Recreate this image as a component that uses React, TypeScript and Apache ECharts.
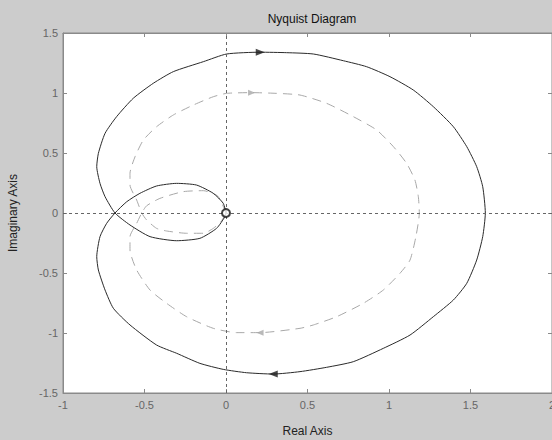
import React, { useEffect, useRef } from "react";
import * as echarts from "echarts";

const xTicks = [-1, -0.5, 0, 0.5, 1, 1.5, 2];
const yTicks = [-1.5, -1, -0.5, 0, 0.5, 1, 1.5];

// Solid Nyquist curve, traced in order
const solidCurve: [number, number][] = [
  [0, 0], [-0.017, 0.081], [-0.078, 0.164], [-0.181, 0.233], [-0.303, 0.247],
  [-0.426, 0.225], [-0.528, 0.164], [-0.609, 0.094], [-0.681, 0],
  [-0.732, -0.086], [-0.773, -0.197], [-0.793, -0.364], [-0.783, -0.475],
  [-0.742, -0.642], [-0.691, -0.794], [-0.589, -0.933], [-0.426, -1.1],
  [-0.303, -1.169], [-0.16, -1.253], [-0.017, -1.303], [0.126, -1.331],
  [0.29, -1.342], [0.454, -1.322], [0.617, -1.286], [0.781, -1.239],
  [0.965, -1.128], [1.129, -1.017], [1.272, -0.864], [1.395, -0.725],
  [1.477, -0.586], [1.538, -0.392], [1.575, -0.197], [1.591, 0],
  [1.575, 0.219], [1.538, 0.386], [1.477, 0.553], [1.395, 0.719],
  [1.272, 0.886], [1.149, 1.025], [1.006, 1.136], [0.863, 1.219],
  [0.72, 1.269], [0.536, 1.325], [0.372, 1.336], [0.209, 1.34],
  [0.004, 1.325], [-0.139, 1.261], [-0.323, 1.178], [-0.446, 1.081],
  [-0.569, 0.956], [-0.671, 0.803], [-0.742, 0.664], [-0.783, 0.497],
  [-0.793, 0.386], [-0.773, 0.247], [-0.742, 0.136], [-0.681, 0],
  [-0.589, -0.1], [-0.466, -0.197], [-0.303, -0.231], [-0.16, -0.211],
  [-0.058, -0.128], [-0.006, -0.03], [0, 0],
];

// Dashed grey Nyquist curve
const dashedCurve: [number, number][] = [
  [0, 0], [-0.05, 0.14], [-0.139, 0.186], [-0.262, 0.178], [-0.405, 0.122],
  [-0.487, 0.06], [-0.517, 0], [-0.548, -0.086], [-0.589, -0.197],
  [-0.589, -0.308], [-0.548, -0.475], [-0.466, -0.642], [-0.364, -0.753],
  [-0.242, -0.864], [-0.078, -0.961], [0.065, -0.997], [0.209, -0.997],
  [0.454, -0.961], [0.536, -0.933], [0.679, -0.864], [0.842, -0.753],
  [0.965, -0.642], [1.067, -0.503], [1.129, -0.392], [1.165, -0.197],
  [1.186, 0], [1.18, 0.136], [1.159, 0.275], [1.108, 0.414], [1.027, 0.553],
  [0.924, 0.692], [0.781, 0.803], [0.617, 0.914], [0.454, 0.983],
  [0.31, 0.997], [0.157, 1.003], [0.004, 0.997], [-0.078, 0.969],
  [-0.2, 0.9], [-0.323, 0.817], [-0.426, 0.719], [-0.507, 0.608],
  [-0.558, 0.469], [-0.589, 0.331], [-0.589, 0.233], [-0.548, 0.108],
  [-0.517, 0], [-0.487, -0.058], [-0.426, -0.128], [-0.364, -0.15],
  [-0.242, -0.169], [-0.139, -0.169], [-0.078, -0.128], [-0.03, -0.07],
  [0, 0],
];

// Direction arrows: [x, y, rotation]
const solidArrows: [number, number, number][] = [
  [0.21, 1.34, -90],
  [0.29, -1.342, 90],
];
const dashedArrows: [number, number, number][] = [
  [0.157, 1.003, -90],
  [0.209, -0.997, 90],
];
const originPoint: [number, number][] = [[0, 0]];

const FONT = "'Liberation Sans', Arial, sans-serif";

export default function App() {
  const ref = useRef<HTMLDivElement>(null);
  useEffect(() => {
    if (!ref.current) return;
    const chart = echarts.init(ref.current, undefined, { renderer: "svg" });
    const axisCommon = {
      type: "value" as const,
      interval: 0.5,
      axisLine: { show: true, onZero: false, lineStyle: { color: "#8a8a8a", width: 1 } },
      axisTick: { show: true, inside: true, length: 4, lineStyle: { color: "#8a8a8a" } },
      splitLine: { show: false },
    };
    chart.setOption({
      animation: false,
      backgroundColor: "#cccccc",
      title: {
        text: "Nyquist Diagram",
        left: 307,
        top: 8,
        textAlign: "center",
        textStyle: { fontFamily: FONT, fontSize: 12, fontWeight: "normal", color: "#111" },
      },
      grid: {
        left: 63,
        top: 33,
        right: 0,
        bottom: 47,
        show: true,
        outerBoundsMode: "none",
        containLabel: false,
        backgroundColor: "#ffffff",
        borderColor: "#8a8a8a",
        borderWidth: 1,
      },
      xAxis: [
        {
          ...axisCommon,
          min: xTicks[0],
          max: xTicks[xTicks.length - 1],
          position: "bottom",
          name: "Real Axis",
          nameLocation: "middle",
          nameGap: 32,
          nameTextStyle: { fontFamily: FONT, fontSize: 12, color: "#222" },
          axisLabel: { fontFamily: FONT, fontSize: 11, color: "#666", margin: 6, showMaxLabel: true },
        },
        {
          ...axisCommon,
          min: xTicks[0],
          max: xTicks[xTicks.length - 1],
          position: "top",
          axisLabel: { show: false },
        },
      ],
      yAxis: [
        {
          ...axisCommon,
          min: yTicks[0],
          max: yTicks[yTicks.length - 1],
          position: "left",
          name: "Imaginary Axis",
          nameLocation: "middle",
          nameGap: 44,
          nameRotate: 90,
          nameTextStyle: { fontFamily: FONT, fontSize: 12, color: "#222" },
          axisLabel: { fontFamily: FONT, fontSize: 11, color: "#666", margin: 5 },
        },
        {
          ...axisCommon,
          min: yTicks[0],
          max: yTicks[yTicks.length - 1],
          position: "right",
          axisLabel: { show: false },
        },
      ],
      series: [
        {
          type: "line",
          data: dashedCurve,
          showSymbol: false,
          smooth: 0.2,
          lineStyle: { color: "#a8a8a8", width: 1, type: [9, 6] },
          silent: true,
          z: 2,
        },
        {
          type: "line",
          data: solidCurve,
          showSymbol: false,
          smooth: 0.2,
          lineStyle: { color: "#2a2a2a", width: 1 },
          silent: true,
          z: 3,
          markLine: {
            silent: true,
            symbol: "none",
            label: { show: false },
            lineStyle: { color: "#666", width: 1, type: [3, 3] },
            data: [{ xAxis: 0 }, { yAxis: 0 }],
          },
        },
        {
          type: "scatter",
          data: solidArrows.map((a) => ({ value: [a[0], a[1]], symbolRotate: a[2] })),
          symbol: "triangle",
          symbolSize: [7, 9],
          itemStyle: { color: "#1a1a1a" },
          silent: true,
          z: 4,
        },
        {
          type: "scatter",
          data: dashedArrows.map((a) => ({ value: [a[0], a[1]], symbolRotate: a[2] })),
          symbol: "triangle",
          symbolSize: [6, 7],
          itemStyle: { color: "#a8a8a8" },
          silent: true,
          z: 4,
        },
        {
          type: "scatter",
          data: originPoint,
          symbol: "circle",
          symbolSize: 8,
          itemStyle: { color: "#ffffff", borderColor: "#111", borderWidth: 2 },
          silent: true,
          z: 5,
        },
      ],
    });
    return () => chart.dispose();
  }, []);
  return (
    <div
      ref={ref}
      style={{ position: "fixed", left: 0, top: 0, width: 552, height: 440 }}
    />
  );
}
